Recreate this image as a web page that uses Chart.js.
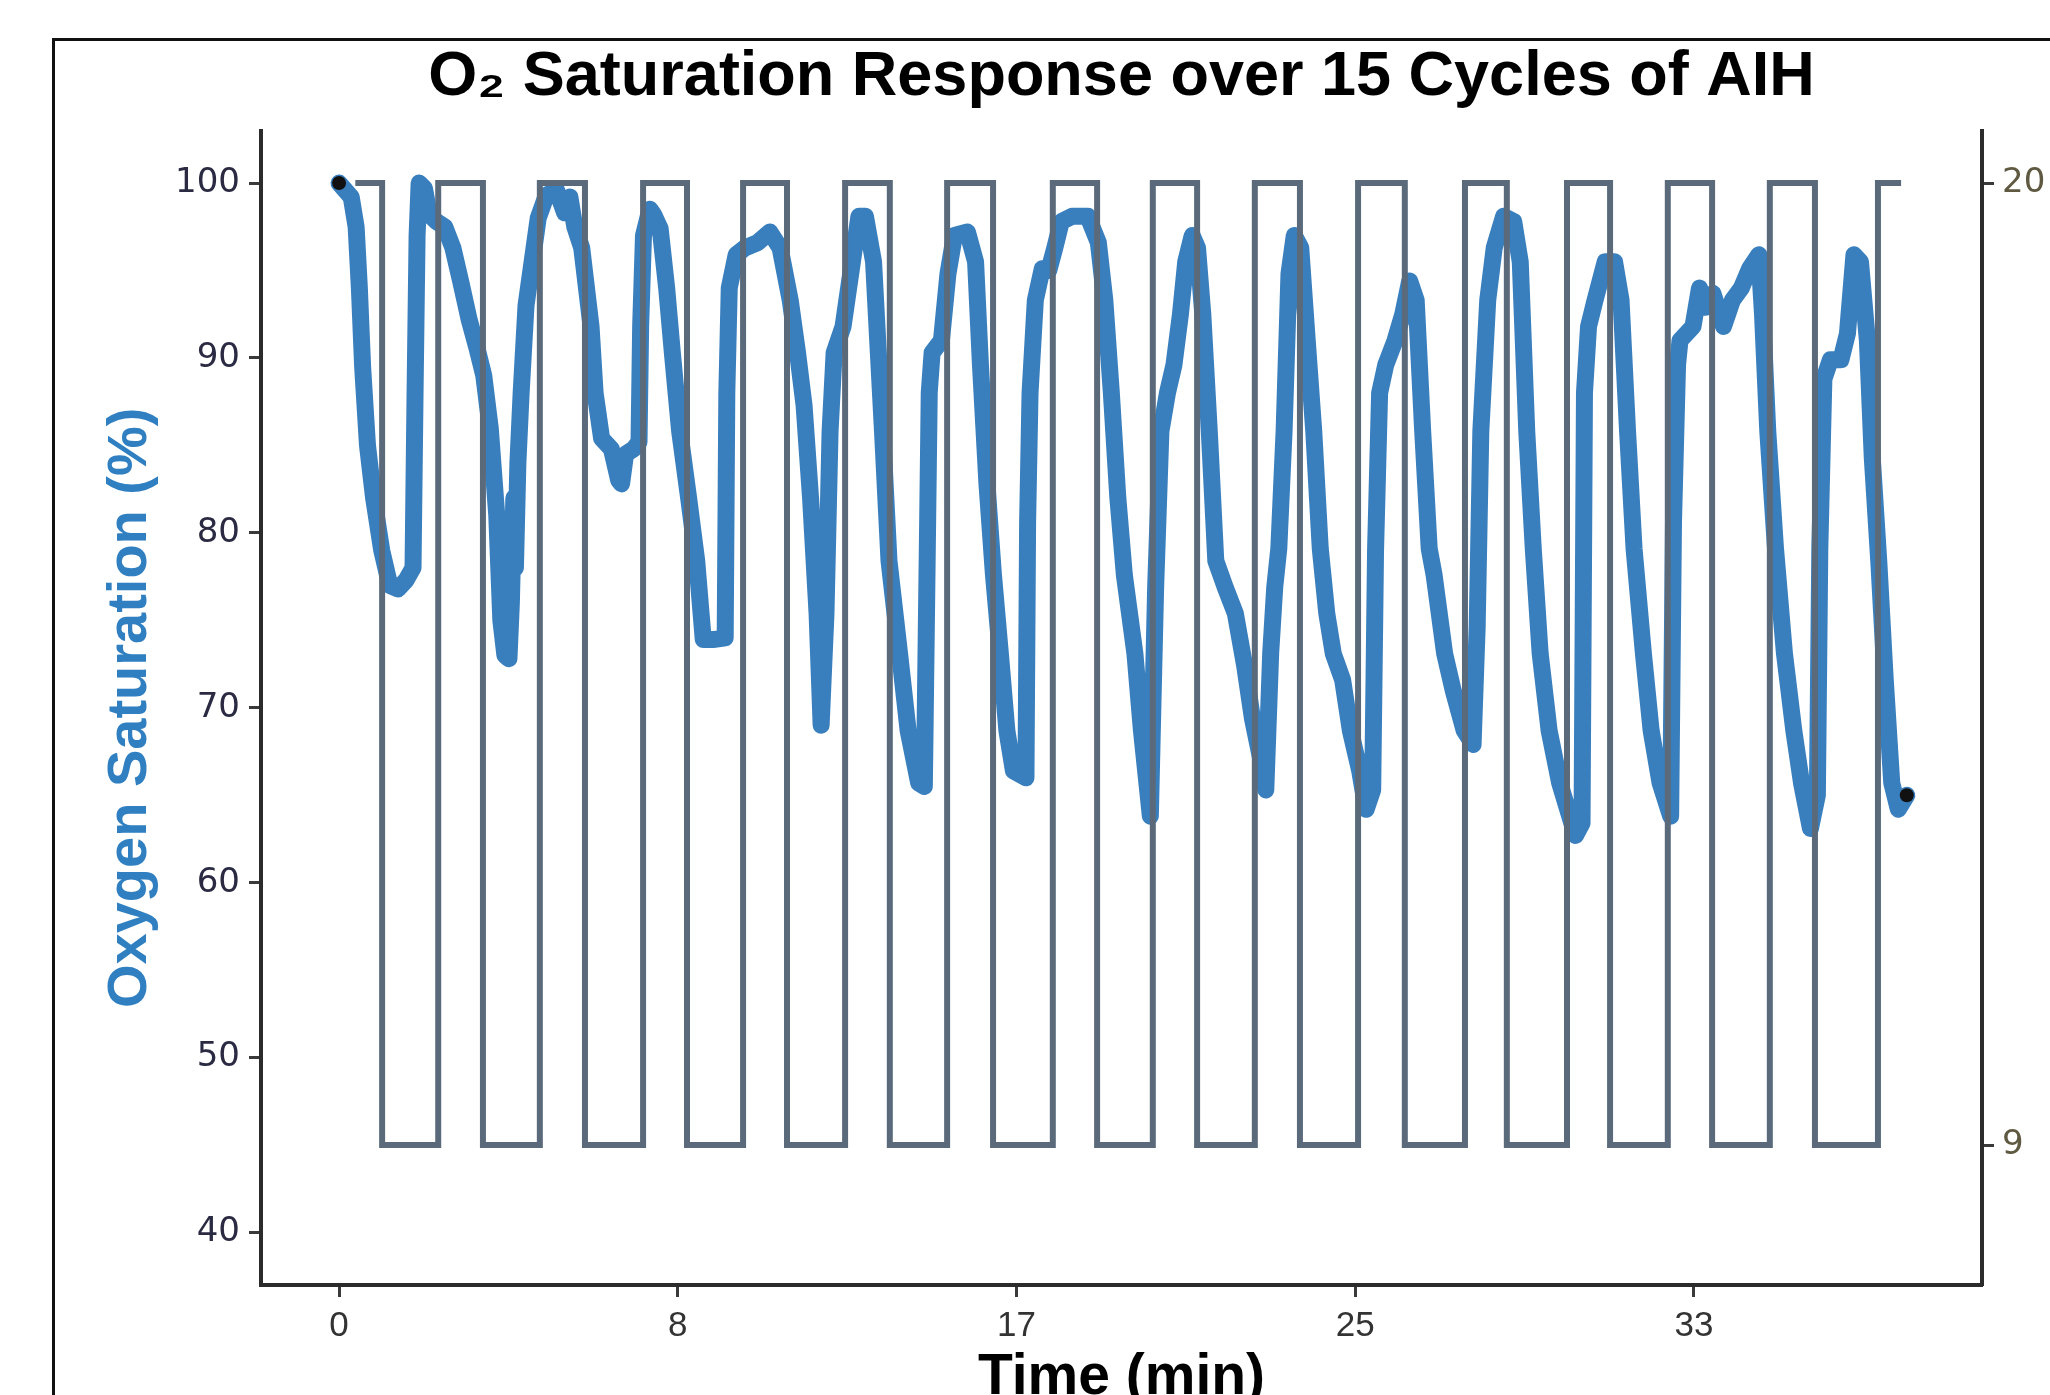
<!DOCTYPE html>
<html>
<head>
<meta charset="utf-8">
<title>O2 Saturation Response over 15 Cycles of AIH</title>
<script src="https://cdn.jsdelivr.net/npm/chart.js@4.4.1/dist/chart.umd.min.js"></script>
<style>
    html, body { margin: 0; padding: 0; background: #fff; overflow: hidden; width: 2050px; height: 1395px; }
    canvas { display: block; }
</style>
</head>
<body>
<canvas id="aihChart" width="2130" height="1420"></canvas>
<script>
// SpO2 trace (minutes, %)
const spo2Time = [
    0, 0.15, 0.3, 0.42, 0.5, 0.58, 0.7, 0.85, 1.05, 1.25, 1.45, 1.65, 1.82, 1.87, 1.92, 1.97,
    2.1, 2.22, 2.4, 2.6, 2.8, 3.0, 3.2, 3.4, 3.56, 3.72, 3.88, 3.98, 4.08, 4.18, 4.24, 4.3,
    4.34, 4.4, 4.48, 4.6, 4.75, 4.9, 5.1, 5.35, 5.55, 5.68, 5.8, 5.97, 6.2, 6.3, 6.46, 6.7,
    6.88, 6.95, 7.05, 7.25, 7.38, 7.42, 7.49, 7.65, 7.74, 7.9, 8.06, 8.2, 8.38, 8.6, 8.8, 8.96,
    9.2, 9.5, 9.54, 9.6, 9.77, 9.99, 10.3, 10.6, 10.85, 11.1, 11.28, 11.44, 11.6, 11.76, 11.86, 11.98,
    12.08, 12.18, 12.4, 12.63, 12.79, 12.95, 13.15, 13.37, 13.53, 13.79, 14.0, 14.26, 14.4, 14.52, 14.59, 14.82,
    14.98, 15.14, 15.46, 15.66, 15.78, 15.94, 16.1, 16.27, 16.43, 16.59, 16.9, 16.94, 17.0, 17.13, 17.3, 17.46,
    17.61, 17.77, 18.03, 18.42, 18.68, 18.84, 19.0, 19.16, 19.32, 19.58, 19.74, 19.96, 20.09, 20.22, 20.38, 20.54,
    20.7, 20.83, 20.99, 21.12, 21.25, 21.41, 21.57, 21.8, 22.05, 22.28, 22.47, 22.7, 22.8, 22.92, 23.02, 23.12,
    23.25, 23.37, 23.5, 23.66, 23.82, 23.98, 24.14, 24.3, 24.46, 24.69, 24.88, 25.11, 25.27, 25.43, 25.5, 25.6,
    25.75, 25.98, 26.17, 26.34, 26.5, 26.66, 26.82, 26.94, 27.2, 27.42, 27.68, 27.9, 28.0, 28.09, 28.26, 28.42,
    28.65, 28.9, 29.06, 29.22, 29.38, 29.55, 29.77, 30.03, 30.42, 30.58, 30.64, 30.74, 30.9, 31.15, 31.38, 31.54,
    31.7, 31.86, 32.09, 32.28, 32.5, 32.76, 32.83, 32.93, 32.99, 33.15, 33.31, 33.47, 33.63, 33.8, 34.06, 34.28,
    34.5, 34.7, 34.93, 35.02, 35.15, 35.34, 35.56, 35.79, 35.98, 36.2, 36.37, 36.43, 36.53, 36.69, 36.95, 37.11,
    37.27, 37.43, 37.6, 37.72, 37.88, 38.04, 38.2, 38.36, 38.57
];
const spo2Values = [
    100, 99.6, 99.2, 97.5, 94, 89.5, 85, 82, 79, 77, 76.8, 77.3, 78, 88, 97, 100,
    99.7, 98.2, 97.8, 97.5, 96.3, 94.3, 92.2, 90.5, 89, 86, 81, 75, 73, 72.8, 76, 82,
    78, 84, 88, 93, 95.5, 98, 99.3, 99.6, 98.3, 99.2, 97.5, 96.3, 91.8, 88, 85.4, 84.8,
    83, 82.8, 84.5, 84.8, 85.2, 91.8, 97, 98.5, 98.2, 97.4, 94, 90.3, 85.8, 82, 78.4, 73.9,
    73.9, 74, 88, 94, 95.9, 96.3, 96.6, 97.2, 96.3, 93.3, 90.3, 87.3, 82, 75.4, 69, 75.4,
    85.8, 90.3, 91.8, 95.5, 98.1, 98.1, 95.5, 85.8, 78.4, 73.1, 68.7, 65.7, 65.5, 88, 90.3, 91,
    94.8, 97, 97.2, 95.5, 89.6, 82.8, 77.6, 73.1, 68.7, 66.4, 66, 80.6, 88, 93.3, 95.1, 95,
    96.3, 97.8, 98.1, 98.1, 96.6, 93.3, 88, 82, 77.6, 73.1, 68.7, 63.8, 76.9, 85.8, 88, 89.6,
    92.5, 95.5, 97, 96.3, 92.5, 85.8, 78.4, 76.9, 75.4, 72.4, 69.4, 66.8, 65.3, 73.1, 76.9, 79.1,
    85.8, 94.8, 97, 96.3, 91, 85.8, 79.1, 75.4, 73.1, 71.6, 68.7, 66.4, 64.2, 65.3, 79, 88,
    89.6, 91, 92.5, 94.4, 93.3, 85.8, 79.1, 77.6, 73.1, 70.9, 68.7, 67.9, 74.6, 85.8, 93.3, 96.3,
    98.1, 97.8, 95.5, 85.8, 79.1, 73.1, 68.7, 65.7, 62.7, 63.4, 88, 91.8, 93.3, 95.5, 95.5, 93.3,
    85.8, 79.1, 73.1, 68.7, 65.7, 63.8, 80.6, 89.6, 91, 91.4, 91.8, 94, 92.9, 93.7, 91.8, 93.3,
    94, 95.1, 95.9, 92.5, 85.8, 79.1, 73.1, 68.7, 65.7, 63.1, 65, 79.1, 88.8, 89.9, 89.9, 91.4,
    95.9, 95.5, 91, 84.3, 78.4, 71.6, 65.7, 64.2, 65
];

// inspired O2 steps (minutes, %), each level held until the next time
const stepTime = [
    0.40, 1.06, 2.44, 3.54, 4.94, 6.05, 7.48, 8.56, 9.94, 11.02, 12.45, 13.55, 14.96, 16.09, 17.56, 18.65,
    20.02, 21.11, 22.53, 23.64, 25.07, 26.22, 27.70, 28.73, 30.21, 31.27, 32.69, 33.78, 35.20, 36.31, 37.86, 38.43
];
const stepLevel = [
    20, 9, 20, 9, 20, 9, 20, 9, 20, 9, 20, 9, 20, 9, 20, 9,
    20, 9, 20, 9, 20, 9, 20, 9, 20, 9, 20, 9, 20, 9, 20, 20
];

// axis ticks
const xTickValues = [0, 8.333, 16.667, 25, 33.333];
const xTickLabels = ['0', '8', '17', '25', '33'];
const yTickValues = [40, 50, 60, 70, 80, 90, 100];
const y2TickValues = [9, 20];

const SANS = "'Liberation Sans', Arial, Helvetica, sans-serif";
const WIDE = "'DejaVu Sans', Verdana, sans-serif";

Chart.defaults.font.family = SANS;

// thin outer frame, the right and bottom sides fall outside the picture
const framePlugin = {
    id: 'frame',
    beforeDraw(chart) {
        const ctx = chart.ctx;
        ctx.save();
        ctx.fillStyle = '#ffffff';
        ctx.fillRect(0, 0, chart.width, chart.height);
        ctx.strokeStyle = '#111111';
        ctx.lineWidth = 3;
        ctx.strokeRect(53.5, 39.5, chart.width + 100, chart.height + 100);
        ctx.restore();
    }
};

function buildPoints(xs, ys) {
    return xs.map((x, i) => ({ x: x, y: ys[i] }));
}

const lastIndex = spo2Time.length - 1;
const dotRadius = spo2Time.map((t, i) => (i === 0 || i === lastIndex) ? 7 : 0);

const ctx = document.getElementById('aihChart').getContext('2d');

new Chart(ctx, {
    type: 'line',
    data: {
        datasets: [
            {
                label: 'Inspired O2',
                data: buildPoints(stepTime, stepLevel),
                yAxisID: 'y2',
                stepped: true,
                borderColor: '#5a6a7b',
                borderWidth: 6,
                borderJoinStyle: 'miter',
                pointRadius: 0,
                fill: false,
                order: 0
            },
            {
                label: 'Oxygen Saturation',
                data: buildPoints(spo2Time, spo2Values),
                yAxisID: 'y',
                borderColor: '#3a7fbd',
                borderWidth: 17,
                borderJoinStyle: 'round',
                borderCapStyle: 'round',
                tension: 0,
                pointRadius: dotRadius,
                pointBackgroundColor: '#111111',
                pointBorderWidth: 0,
                fill: false,
                order: 1
            }
        ]
    },
    options: {
        responsive: false,
        animation: false,
        layout: { padding: 0 },
        plugins: {
            legend: { display: false },
            tooltip: { enabled: false },
            title: {
                display: true,
                text: 'O₂ Saturation Response over 15 Cycles of AIH',
                color: '#000000',
                fullSize: false,
                font: { size: 63, weight: 'bold', family: SANS },
                padding: { top: 40, bottom: 15 }
            }
        },
        scales: {
            x: {
                type: 'linear',
                position: 'bottom',
                min: -1.92,
                max: 40.42,
                afterBuildTicks: (scale) => { scale.ticks = xTickValues.map(v => ({ value: v })); },
                afterFit: (scale) => { scale.height = 135; },
                ticks: {
                    autoSkip: false,
                    maxRotation: 0,
                    padding: 8,
                    color: '#333333',
                    font: { size: 35 },
                    callback: (value, index) => xTickLabels[index]
                },
                grid: {
                    drawOnChartArea: false,
                    drawTicks: true,
                    tickLength: 12,
                    tickColor: '#3a3a3a',
                    tickWidth: 3
                },
                border: { display: true, color: '#2b2b2b', width: 4 },
                title: {
                    display: true,
                    text: 'Time (min)',
                    color: '#000000',
                    font: { size: 57, weight: 'bold' },
                    padding: { top: 0, bottom: 8 }
                }
            },
            y: {
                type: 'linear',
                position: 'left',
                min: 37,
                max: 103,
                afterBuildTicks: (scale) => { scale.ticks = yTickValues.map(v => ({ value: v })); },
                afterFit: (scale) => { scale.width = 261; },
                ticks: {
                    padding: 9,
                    color: '#2a2a42',
                    font: { size: 34, family: WIDE }
                },
                grid: {
                    drawOnChartArea: false,
                    drawTicks: true,
                    tickLength: 12,
                    tickColor: '#3a3a3a',
                    tickWidth: 3
                },
                border: { display: true, color: '#2b2b2b', width: 4 },
                title: {
                    display: true,
                    text: 'Oxygen Saturation (%)',
                    color: '#2f7fc1',
                    font: { size: 56, weight: 'bold' },
                    padding: { top: 97, bottom: 0 }
                }
            },
            y2: {
                type: 'linear',
                position: 'right',
                min: 7.4,
                max: 20.6,
                afterBuildTicks: (scale) => { scale.ticks = y2TickValues.map(v => ({ value: v })); },
                afterFit: (scale) => { scale.width = 148; },
                ticks: {
                    padding: 8,
                    color: '#5e5940',
                    font: { size: 34, family: WIDE }
                },
                grid: {
                    drawOnChartArea: false,
                    drawTicks: true,
                    tickLength: 12,
                    tickColor: '#3a3a3a',
                    tickWidth: 3
                },
                border: { display: true, color: '#2b2b2b', width: 4 }
            }
        }
    },
    plugins: [framePlugin]
});
</script>
</body>
</html>
